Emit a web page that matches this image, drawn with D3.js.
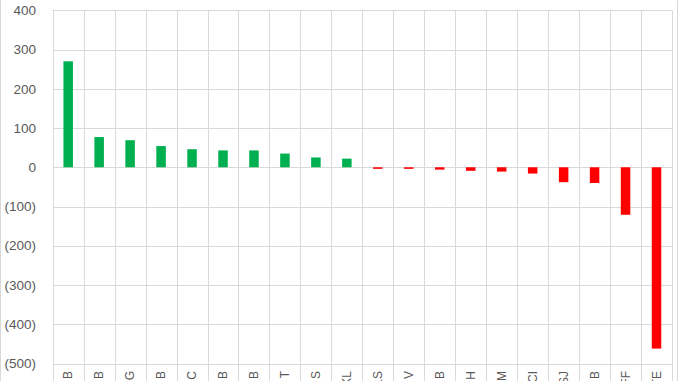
<!DOCTYPE html>
<html>
<head>
<meta charset="utf-8">
<script src="https://cdn.jsdelivr.net/npm/d3@7"></script>
<style>
  body { margin: 0; background: #fff; }
  svg { display: block; }
</style>
</head>
<body>
<svg id="chart" width="678" height="381"></svg>
<script>
// category labels (only their last letters are visible at the bottom)
const categories = ["B", "B", "G", "B", "C", "B", "B", "T", "S", "KL",
                    "LS", "V", "B", "H", "M", "CI", "SJ", "B", "FF", "TE"]
const values = [270, 77, 69, 54, 46, 43, 43, 35, 25, 22,
                -4, -4, -6, -9, -11, -16, -38, -40, -121, -462]
const yTicks = [400, 300, 200, 100, 0, -100, -200, -300, -400, -500]

const width = 678
const height = 381
const svg = d3.select("#chart")

// define margins
const margin = {top: 10.3, right: 6, bottom: 17.5, left: 52.7}

// outer border of the chart area
svg.append("rect")
  .attr("x", 0.5).attr("y", -1)
  .attr("width", width - 1).attr("height", height + 2)
  .attr("fill", "none")
  .attr("stroke", "#d9d9d9")

// define x scale
const x = d3.scaleBand()
  .domain(d3.range(categories.length))
  .range([margin.left, width - margin.right])
  .paddingInner(0)
  .paddingOuter(0)

// define y scale
const y = d3.scaleLinear()
  .domain([-500, 400])
  .range([height - margin.bottom, margin.top])

const fmt = v => v < 0 ? "(" + Math.abs(v) + ")" : String(v)

// horizontal gridlines
svg.append("g")
  .selectAll("line")
  .data(yTicks)
  .enter()
  .append("line")
    .attr("x1", margin.left)
    .attr("x2", width - margin.right)
    .attr("y1", d => Math.round(y(d)) + 0.5)
    .attr("y2", d => Math.round(y(d)) + 0.5)
    .attr("stroke", "#d9d9d9")

// vertical gridlines between categories
const bounds = d3.range(categories.length + 1).map(i => margin.left + i * x.step())
svg.append("g")
  .selectAll("line")
  .data(bounds)
  .enter()
  .append("line")
    .attr("x1", d => Math.round(d) + 0.5)
    .attr("x2", d => Math.round(d) + 0.5)
    .attr("y1", y(400))
    .attr("y2", height)
    .attr("stroke", "#d9d9d9")

// y tick labels
svg.append("g")
  .selectAll("text")
  .data(yTicks)
  .enter()
  .append("text")
    .attr("x", 36)
    .attr("y", d => y(d))
    .attr("dy", "0.35em")
    .attr("text-anchor", "end")
    .attr("fill", "#595959")
    .style("font", "13.5px 'Liberation Sans', Arial, sans-serif")
    .text(fmt)

// draw bars
const barW = 9.5
svg.append("g")
  .selectAll("rect")
  .data(values)
  .enter()
  .append("rect")
    .attr("x", (d, i) => x(i) + x.bandwidth() / 2 - barW / 2)
    .attr("y", d => y(Math.max(0, d)))
    .attr("width", barW)
    .attr("height", d => Math.abs(y(d) - y(0)))
    .attr("fill", d => d >= 0 ? "#00b050" : "#ff0000")

// category labels, rotated
svg.append("g")
  .selectAll("text")
  .data(categories)
  .enter()
  .append("text")
    .attr("transform", (d, i) => "translate(" + (x(i) + x.bandwidth() / 2) + "," + 371 + ")rotate(-90)")
    .attr("dy", "0.35em")
    .attr("text-anchor", "end")
    .attr("fill", "#595959")
    .style("font", "12px 'Liberation Sans', Arial, sans-serif")
    .text(d => d)
</script>
</body>
</html>
